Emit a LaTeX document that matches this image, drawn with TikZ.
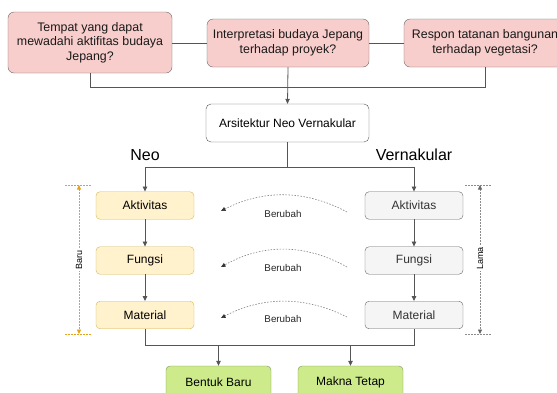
\documentclass[tikz,border=0pt]{standalone}
\usepackage{fontspec}
\setmainfont{Liberation Sans}
\usetikzlibrary{arrows.meta}
\definecolor{pinkf}{HTML}{F8CECC}
\definecolor{yelf}{HTML}{FFF2CC}
\definecolor{yeld}{HTML}{D6B656}
\definecolor{grayf}{HTML}{F5F5F5}
\definecolor{grayd}{HTML}{666666}
\definecolor{greenf}{HTML}{CDEB8B}
\definecolor{greend}{HTML}{7E9160}
\definecolor{dimor}{HTML}{E3A21A}
\definecolor{linec}{HTML}{555555}
\tikzset{
  qbox/.style={draw=grayd, fill=pinkf, rounded corners=6pt, align=center, inner sep=0pt,
    font=\fontsize{12.4}{14.5}\selectfont, text=black!90},
  archbox/.style={draw=linec, fill=white, rounded corners=5pt, inner sep=0pt,
    minimum width=163pt, minimum height=38pt, font=\fontsize{12}{14}\selectfont},
  ybox/.style={draw=yeld, fill=yelf, rounded corners=4pt, inner sep=0pt,
    minimum width=98pt, minimum height=27.5pt, font=\fontsize{12}{14}\selectfont},
  gbox/.style={draw=grayd, fill=grayf, rounded corners=4pt, inner sep=0pt, text=black!80,
    minimum width=98pt, minimum height=27.5pt, font=\fontsize{12}{14}\selectfont},
  grbox/.style={draw=greend, fill=greenf, rounded corners=4pt, inner sep=0pt,
    minimum width=105pt, minimum height=32pt, font=\fontsize{12}{14}\selectfont},
  conn/.style={draw=linec, line width=0.8pt},
  arr/.style={-{Triangle[length=5pt,width=4.5pt]}},
  chg/.style={draw=black!50, line width=0.6pt, dash pattern=on 1.5pt off 1.5pt,
    -{Triangle[length=4.5pt,width=4pt,color=black!80]}},
  chglab/.style={font=\fontsize{9.8}{11}\selectfont, text=black!85},
  head/.style={font=\fontsize{16}{18}\selectfont},
  dimlab/.style={font=\fontsize{9}{10}\selectfont, rotate=90, fill=white, inner sep=1.5pt},
  dimo/.style={draw=dimor, line width=0.7pt, dash pattern=on 1.5pt off 1.5pt},
  dimg/.style={draw=black!45, line width=0.7pt, dash pattern=on 1.5pt off 1.5pt},
}
\begin{document}
\begin{tikzpicture}[x=1pt,y=-1pt]
\useasboundingbox (0,0) rectangle (557,392);
% top question boxes
\node[qbox, minimum width=164pt, minimum height=61pt] (q1) at (90,42.5)
  {Tempat yang dapat\\mewadahi aktifitas budaya\\Jepang?};
\node[qbox, minimum width=162pt, minimum height=48pt] (q2) at (288,43)
  {Interpretasi budaya Jepang\\terhadap proyek?};
\node[qbox, minimum width=162pt, minimum height=48pt] (q3) at (485,43)
  {Respon tatanan bangunan\\terhadap vegetasi?};
\draw[conn] (q1.east |- q2.west) -- (q2.west);
\draw[conn] (q2.east) -- (q3.west);
\draw[conn] (q1.south) -- ++(0,14) -| (q3.south);
% central box
\node[archbox] (arch) at (287.5,123) {Arsitektur Neo Vernakular};
\draw[conn,arr] (q2.south) -- (arch.north);
% headings
\node[head] (neo) at (145,155) {Neo};
\node[head] (vern) at (414,155) {Vernakular};
% neo column
\node[ybox] (na) at (145,205.5) {Aktivitas};
\node[ybox] (nf) at (145,260.5) {Fungsi};
\node[ybox] (nm) at (145,315) {Material};
% vernakular column
\node[gbox] (va) at (414,205.5) {Aktivitas};
\node[gbox] (vf) at (414,260.5) {Fungsi};
\node[gbox] (vm) at (414,315) {Material};
\coordinate (split) at (287.5,167);
\draw[conn] (arch.south) -- (split);
\draw[conn,arr] (split) -| (na.north);
\draw[conn,arr] (split) -| (va.north);
\draw[conn,arr] (na) -- (nf);
\draw[conn,arr] (nf) -- (nm);
\draw[conn,arr] (va) -- (vf);
\draw[conn,arr] (vf) -- (vm);
% bottom boxes
\node[grbox] (bb) at (218.5,382) {Bentuk Baru};
\node[grbox] (mt) at (350.5,382) {Makna Tetap};
\draw[conn] (nm.south) -- ++(0,16.5) -| (vm.south);
\coordinate (j1) at (218.5,345.5);
\coordinate (j2) at (350.5,345.5);
\draw[conn,arr] (j1) -- (bb.north);
\draw[conn,arr] (j2) -- (mt.north);
% Berubah curves
\coordinate (s1) at (347,212); \coordinate (e1) at (221,211);
\coordinate (s2) at (347,267); \coordinate (e2) at (221,267);
\coordinate (s3) at (347,317); \coordinate (e3) at (221,318);
\draw[chg] (s1) .. controls (305,189.5) and (263,189.5) .. (e1);
\draw[chg] (s2) .. controls (305,243.5) and (263,243.5) .. (e2);
\draw[chg] (s3) .. controls (305,296) and (263,296) .. (e3);
\node[chglab] (b1) at (283,213.5) {Berubah};
\node[chglab] (b2) at (283,268) {Berubah};
\node[chglab] (b3) at (283,319) {Berubah};
% Baru dimension
\coordinate (bt) at (79,185); \coordinate (bbm) at (79,334);
\draw[dimo] (65,185) -- (92,185);
\draw[dimo] (65,334) -- (92,334);
\draw[dimo, {Triangle[length=4.5pt,width=4pt,color=dimor]}-{Triangle[length=4.5pt,width=4pt,color=dimor]}] (bt) -- (bbm);
\node[dimlab] (baru) at (79,259.5) {Baru};
% Lama dimension
\coordinate (lt) at (480,185); \coordinate (lb) at (480,334);
\draw[dimg] (465,185) -- (492,185);
\draw[dimg] (465,334) -- (492,334);
\draw[dimg, {Triangle[length=4.5pt,width=4pt,color=black!60]}-{Triangle[length=4.5pt,width=4pt,color=black!60]}] (lt) -- (lb);
\node[dimlab] (lama) at (480,258.5) {Lama};
\end{tikzpicture}
\end{document}
